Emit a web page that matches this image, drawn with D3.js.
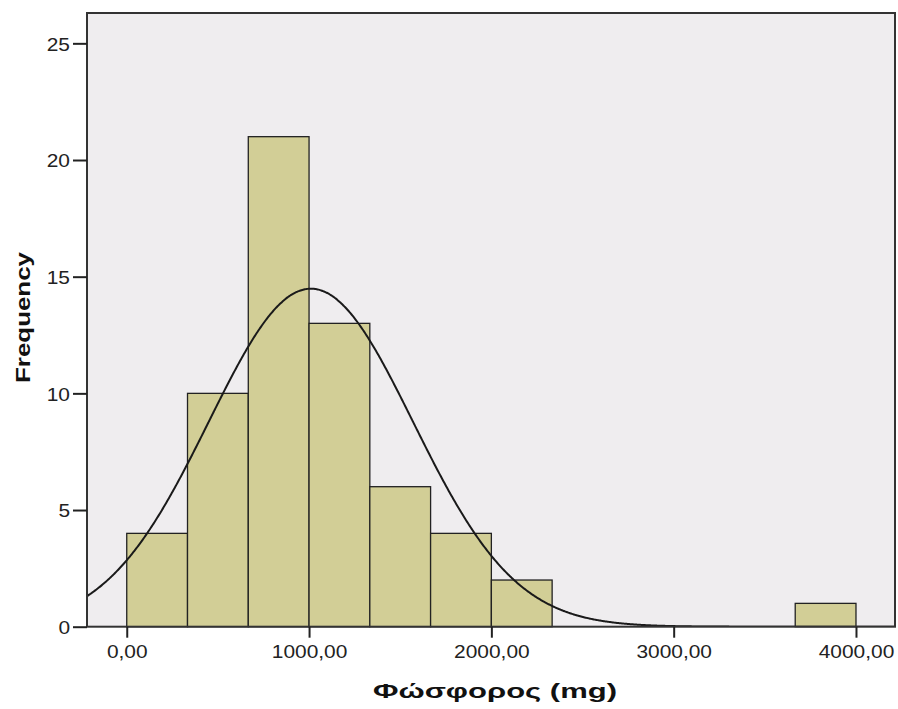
<!DOCTYPE html>
<html><head><meta charset="utf-8">
<script src="https://cdn.jsdelivr.net/npm/d3@7"></script>
<style>body{margin:0;background:#fff}svg{display:block}</style>
</head><body>
<svg id="c" width="898" height="709"></svg>
<script>
const binEdges = [0,333.33,666.67,1000,1333.33,1666.67,2000,2333.33,2666.67,3000,3333.33,3666.67,4000];
const counts = [4,10,21,13,6,4,2,0,0,0,0,1];
const xTicks = [0,1000,2000,3000,4000];
const xTickLabels = ["0,00","1000,00","2000,00","3000,00","4000,00"];
const yTicks = [0,5,10,15,20,25];
const curveMean = 1010;
const curveSD = 560;
const N = 61;

const svg = d3.select("#c");
const L=87,R=895,T=13,B=626.7;
const x = d3.scaleLinear().domain([-218,4214]).range([L,R]);
const y = d3.scaleLinear().domain([0,26.3]).range([B,T]);

svg.append("rect").attr("x",L).attr("y",T).attr("width",R-L).attr("height",B-T).attr("fill","#efedef");

const bars = counts.map((c,i)=>({x0:binEdges[i],x1:binEdges[i+1],c})).filter(d=>d.c>0);
svg.selectAll("rect.bar").data(bars).enter().append("rect").attr("class","bar")
  .attr("x",d=>x(d.x0)).attr("width",d=>x(d.x1)-x(d.x0))
  .attr("y",d=>y(d.c)).attr("height",d=>y(0)-y(d.c))
  .attr("fill","#d2ce96").attr("stroke","#222").attr("stroke-width",1.3);

// normal curve
const bw = binEdges[1]-binEdges[0];
const pts = d3.range(-218,4214,5).map(v=>[v, N*bw*Math.exp(-0.5*((v-curveMean)/curveSD)**2)/(curveSD*Math.sqrt(2*Math.PI))]);
svg.append("clipPath").attr("id","cp").append("rect").attr("x",L).attr("y",T).attr("width",R-L).attr("height",B-T);
svg.append("path").datum(pts).attr("clip-path","url(#cp)")
  .attr("d",d3.line().x(d=>x(d[0])).y(d=>y(d[1])).curve(d3.curveBasis))
  .attr("fill","none").attr("stroke","#1a1a1a").attr("stroke-width",2);

// frame
svg.append("rect").attr("x",L).attr("y",T).attr("width",R-L).attr("height",B-T).attr("fill","none").attr("stroke","#333").attr("stroke-width",2);

// axes
const yAxis = d3.axisLeft(y).tickValues(yTicks).tickSize(14).tickPadding(3).tickFormat(d3.format("d"));
const ga = svg.append("g").attr("transform",`translate(${L},0)`).call(yAxis);
ga.select(".domain").remove();
const xAxis = d3.axisBottom(x).tickValues(xTicks).tickSize(11).tickPadding(6).tickFormat((d,i)=>xTickLabels[i]);
const gx = svg.append("g").attr("transform",`translate(0,${B})`).call(xAxis);
gx.select(".domain").remove();
svg.selectAll(".tick line").attr("stroke","#222").attr("stroke-width",2);
svg.selectAll(".tick text").attr("fill","#222").style("font-family","Liberation Sans, Arial, sans-serif").style("font-size","19px");
svg.selectAll(".tick text").each(function(){const w=this.getComputedTextLength();d3.select(this).attr("textLength",w*1.1).attr("lengthAdjust","spacingAndGlyphs");});
ga.selectAll(".tick text").attr("dy","0.36em");
gx.selectAll(".tick text").attr("dy","0.75em");

svg.append("text").attr("x",495).attr("y",698).attr("text-anchor","middle")
  .style("font-family","Liberation Sans, Arial, sans-serif").style("font-weight","bold").style("font-size","21px")
  .attr("fill","#111").attr("textLength",244).attr("lengthAdjust","spacingAndGlyphs").text("Φώσφορος (mg)");
svg.append("text").attr("transform","translate(30,317.5) rotate(-90)").attr("text-anchor","middle")
  .style("font-family","Liberation Sans, Arial, sans-serif").style("font-weight","bold").style("font-size","21px")
  .attr("fill","#111").attr("textLength",131).attr("lengthAdjust","spacingAndGlyphs").text("Frequency");
</script>
</body></html>
